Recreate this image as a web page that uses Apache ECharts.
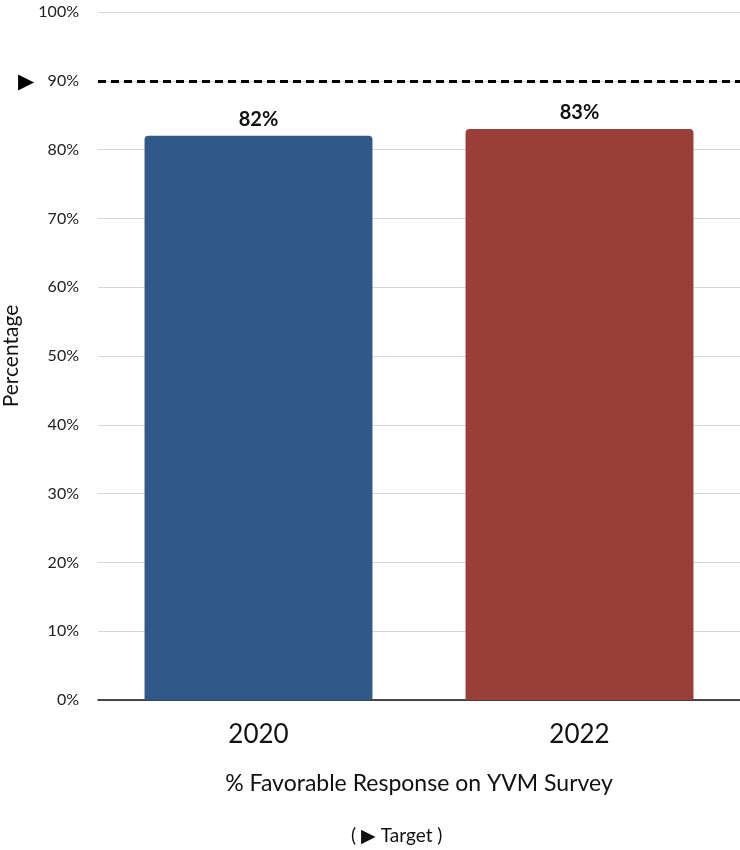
<!DOCTYPE html>
<html>
<head>
<meta charset="utf-8">
<script src="https://cdn.jsdelivr.net/npm/echarts@6/dist/echarts.min.js"></script>
<style>
  html, body { margin: 0; padding: 0; background: #ffffff; }
  #chart { width: 740px; height: 850px; }
</style>
</head>
<body>
<div id="chart"></div>
<script>
// Survey years and favorable-response percentages
const years = ['2020', '2022'];
const favorable = [82, 83];
const barColors = ['#2e5989', '#9a3f37'];
const target = 90;
const yTicks = { min: 0, max: 100, interval: 10 };

const FONT = 'Lato, "Noto Sans", sans-serif';

const chart = echarts.init(document.getElementById('chart'), null, { renderer: 'canvas' });

chart.setOption({
  backgroundColor: '#ffffff',
  animation: false,
  textStyle: { fontFamily: FONT },
  title: {
    text: '( \u25B6 Target )',
    left: 346,
    bottom: 0,
    textStyle: { fontFamily: FONT, fontSize: 19, fontWeight: 'normal', color: '#111' }
  },
  grid: { left: 98, right: 0, top: 12, bottom: 150, outerBoundsMode: 'none', containLabel: false },
  xAxis: {
    type: 'category',
    data: years,
    name: '% Favorable Response on YVM Survey',
    nameLocation: 'middle',
    nameGap: 72,
    nameTextStyle: { fontFamily: FONT, fontSize: 23, color: '#111' },
    axisLine: { lineStyle: { color: '#111', width: 1.5 } },
    axisTick: { show: false },
    axisLabel: { fontFamily: FONT, fontSize: 26, color: '#111', margin: 22 }
  },
  yAxis: {
    type: 'value',
    min: yTicks.min,
    max: yTicks.max,
    interval: yTicks.interval,
    name: 'Percentage',
    nameLocation: 'middle',
    nameGap: 76,
    nameTextStyle: { fontFamily: FONT, fontSize: 21, color: '#111' },
    axisLine: { show: false },
    axisTick: { show: false },
    axisLabel: { fontFamily: FONT, fontSize: 16, color: '#222', margin: 19, formatter: v => v + '%' },
    splitLine: { lineStyle: { color: '#d9d9d9', width: 1 } }
  },
  series: [{
    type: 'bar',
    data: favorable.map((v, i) => ({ value: v, itemStyle: { color: barColors[i] } })),
    barWidth: '71%',
    itemStyle: { borderRadius: [4, 4, 0, 0] },
    label: {
      show: true,
      position: 'top',
      distance: 6,
      formatter: p => p.value + '%',
      fontFamily: FONT,
      fontSize: 20,
      fontWeight: 'bold',
      color: '#111'
    },
    markLine: {
      silent: true,
      symbol: 'none',
      data: [{ yAxis: target }],
      lineStyle: { color: '#000', type: [8, 5], width: 3 },
      label: {
        show: true,
        position: 'start',
        distance: 64,
        formatter: '\u25B6',
        fontSize: 21,
        color: '#000'
      }
    }
  }]
});
</script>
</body>
</html>
